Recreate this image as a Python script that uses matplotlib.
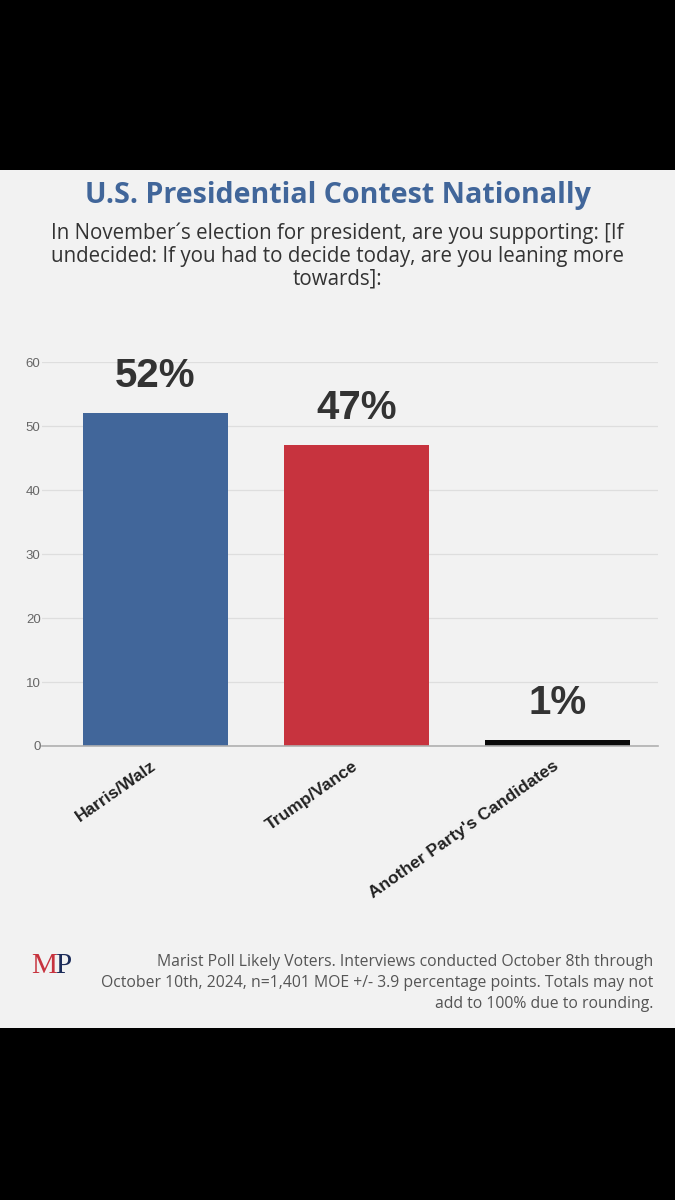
import matplotlib
matplotlib.use("Agg")
import matplotlib.pyplot as plt
from matplotlib.patches import Rectangle
from matplotlib.transforms import ScaledTranslation

# данные с картинки
candidates = ["Harris/Walz", "Trump/Vance", "Another Party's Candidates"]
support = [52, 47, 1]
bar_colors = ["#41669a", "#c7333e", "#0a0a0a"]
y_ticks = [0, 10, 20, 30, 40, 50, 60]

title = "U.S. Presidential Contest Nationally"
subtitle = ("In November\u00b4s election for president, are you supporting: [If\n"
            "undecided: If you had to decide today, are you leaning more\n"
            "towards]:")
footer = ("Marist Poll Likely Voters. Interviews conducted October 8th through\n"
          "October 10th, 2024, n=1,401 MOE +/- 3.9 percentage points. Totals may not\n"
          "add to 100% due to rounding.")

W, H = 675, 1200
fig = plt.figure(figsize=(W / 100, H / 100), dpi=100, facecolor="black")

# серая панель между чёрными полосами
panel_top, panel_bottom = 170, 1028
fig.patches.append(Rectangle((0, 1 - panel_bottom / H), 1, (panel_bottom - panel_top) / H,
                             transform=fig.transFigure, facecolor="#f2f2f2",
                             edgecolor="none", zorder=-5))

ax = fig.add_axes([42 / W, 1 - 746 / H, (658 - 42) / W, (746 - 362) / H])
ax.set_zorder(2)
ax.patch.set_alpha(0)

x = list(range(len(candidates)))
bars = ax.bar(x, support, width=0.72, color=bar_colors, zorder=3)

ax.set_xlim(-0.565, 2.5)
ax.set_ylim(0, 60)
ax.set_yticks(y_ticks)
ax.set_yticklabels([str(t) for t in y_ticks], fontsize=9.5, color="#666666",
                   family="Liberation Sans")
ax.tick_params(axis="y", length=0, pad=1)
ax.grid(axis="y", color="#dedede", linewidth=0.9, zorder=0)
ax.set_axisbelow(True)
for s in ["top", "right", "left"]:
    ax.spines[s].set_visible(False)
ax.spines["bottom"].set_color("#b0b0b0")
ax.spines["bottom"].set_linewidth(1.2)
ax.spines["bottom"].set_zorder(4)

ax.set_xticks(x)
ax.set_xticklabels(candidates, rotation=35, ha="right", rotation_mode="anchor",
                   fontsize=12.5, fontweight="bold", color="#222222",
                   family="Liberation Sans")
ax.tick_params(axis="x", length=0, pad=9)
# чуть левее, чтобы конец подписи был у центра столбца
shift = ScaledTranslation(-5 / 100, 0, fig.dpi_scale_trans)
for lbl in ax.get_xticklabels():
    lbl.set_transform(lbl.get_transform() + shift)

for b, v in zip(bars, support):
    ax.annotate(f"{v}%", (b.get_x() + b.get_width() / 2, v),
                xytext=(0, 13), textcoords="offset points",
                ha="center", va="bottom", fontsize=29, fontweight="bold",
                color="#333333", family="Liberation Sans")

fig.text(0.5, 1 - 196 / H, title, ha="center", va="center", fontsize=20.6,
         fontweight="bold", color="#41669a", family="Open Sans")
fig.text(0.5, 1 - 256 / H, subtitle, ha="center", va="center", fontsize=14.8,
         color="#333333", family="Open Sans", linespacing=1.08)

fig.text(653 / W, 1 - 983 / H, footer, ha="right", va="center", fontsize=11.3,
         color="#555555", family="Open Sans", linespacing=1.4)

fig.text(31 / W, 1 - 966 / H, "M", ha="left", va="center", fontsize=21,
         color="#c7333e", family="Liberation Serif")
fig.text(55 / W, 1 - 966 / H, "P", ha="left", va="center", fontsize=21,
         color="#1c2c5a", family="Liberation Serif")

fig.savefig("out.png", dpi=100, facecolor=fig.get_facecolor())
